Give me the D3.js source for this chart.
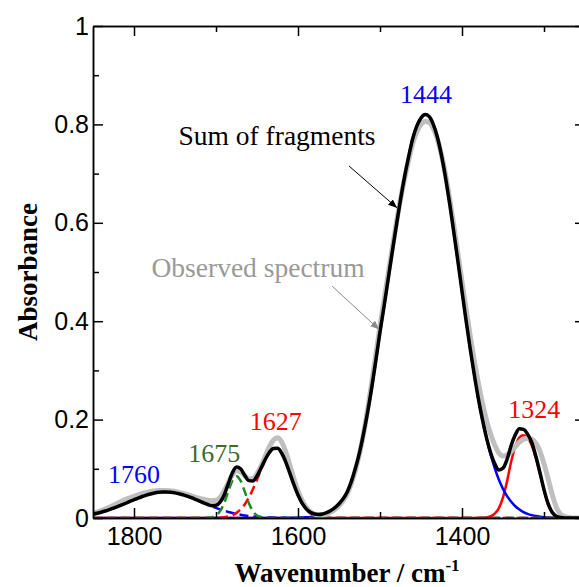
<!DOCTYPE html>
<html>
<head>
<meta charset="utf-8">
<script src="https://cdn.jsdelivr.net/npm/d3@7"></script>
<style>
  body { margin: 0; background: #fff; }
  svg { display: block; font-family: "Liberation Serif", "Times New Roman", serif; }
  .axis text { font-size: 25px; fill: #000; }
  .axis line, .axis path { stroke: #000; stroke-width: 1.5px; }
</style>
</head>
<body>
<div id="chart"></div>
<script>
// wavenumber grid (cm-1), read every 5 cm-1 off the figure
const wavenumber = [
  1850, 1845, 1840, 1835, 1830, 1825, 1820, 1815, 1810, 1805,
  1800, 1795, 1790, 1785, 1780, 1775, 1770, 1765, 1760, 1755,
  1750, 1745, 1740, 1735, 1730, 1725, 1720, 1715, 1710, 1705,
  1700, 1695, 1690, 1685, 1680, 1675, 1670, 1665, 1660, 1655,
  1650, 1645, 1640, 1635, 1630, 1625, 1620, 1615, 1610, 1605,
  1600, 1595, 1590, 1585, 1580, 1575, 1570, 1565, 1560, 1555,
  1550, 1545, 1540, 1535, 1530, 1525, 1520, 1515, 1510, 1505,
  1500, 1495, 1490, 1485, 1480, 1475, 1470, 1465, 1460, 1455,
  1450, 1445, 1440, 1435, 1430, 1425, 1420, 1415, 1410, 1405,
  1400, 1395, 1390, 1385, 1380, 1375, 1370, 1365, 1360, 1355,
  1350, 1345, 1340, 1335, 1330, 1325, 1320, 1315, 1310, 1305,
  1300, 1295, 1290, 1285, 1280, 1275, 1270, 1265, 1260, 1255,
  1250
]

// observed spectrum (grey)
const observed = [
  .010, .012, .015, .018, .022, .026, .030, .034, .038, .041,
  .044, .047, .050, .052, .054, .055, .056, .056, .056, .055,
  .054, .052, .050, .048, .045, .042, .040, .038, .036, .035,
  .036, .042, .055, .072, .088, .096, .094, .086, .079, .080,
  .090, .106, .125, .145, .158, .163, .155, .135, .108, .080,
  .055, .036, .022, .013, .008, .006, .006, .008, .012, .017,
  .025, .035, .049, .070, .097, .130, .172, .222, .276, .333,
  .390, .443, .496, .549, .600, .648, .690, .728, .762, .785,
  .800, .806, .804, .792, .770, .738, .697, .648, .594, .538,
  .480, .424, .370, .320, .274, .233, .198, .170, .148, .132,
  .126, .128, .135, .145, .154, .160, .162, .160, .152, .136,
  .110, .080, .048, .022, .008, .003, .001, 0, 0, 0,
  0
]

// fitted fragments
const band1760 = [
  .0078, .0097, .0118, .0142, .0169, .0199, .0231, .0265, .0300, .0336,
  .0371, .0405, .0437, .0465, .0489, .0508, .0522, .0529, .0529, .0524,
  .0511, .0494, .0470, .0443, .0412, .0378, .0343, .0307, .0272, .0238,
  .0205, .0175, .0147, .0123, .0101, .0082, .0066, .0052, .0041, .0031,
  .0024, .0018, .0013, .0010, .0007, .0005, .0004, .0003, .0002, .0001,
  .0001, 0, 0, 0, 0, 0, 0, 0, 0, 0,
  0, 0, 0, 0, 0, 0, 0, 0, 0, 0,
  0, 0, 0, 0, 0, 0, 0, 0, 0, 0,
  0, 0, 0, 0, 0, 0, 0, 0, 0, 0,
  0, 0, 0, 0, 0, 0, 0, 0, 0, 0,
  0, 0, 0, 0, 0, 0, 0, 0, 0, 0,
  0, 0, 0, 0, 0, 0, 0, 0, 0, 0,
  0
]
const band1675 = [
  0, 0, 0, 0, 0, 0, 0, 0, 0, 0,
  0, 0, 0, 0, 0, 0, 0, 0, 0, 0,
  0, 0, 0, 0, 0, 0, 0, 0, .0003, .0014,
  .0050, .0139, .0306, .0540, .0759, .0850, .0759, .0540, .0306, .0139,
  .0050, .0014, .0003, 0, 0, 0, 0, 0, 0, 0,
  0, 0, 0, 0, 0, 0, 0, 0, 0, 0,
  0, 0, 0, 0, 0, 0, 0, 0, 0, 0,
  0, 0, 0, 0, 0, 0, 0, 0, 0, 0,
  0, 0, 0, 0, 0, 0, 0, 0, 0, 0,
  0, 0, 0, 0, 0, 0, 0, 0, 0, 0,
  0, 0, 0, 0, 0, 0, 0, 0, 0, 0,
  0, 0, 0, 0, 0, 0, 0, 0, 0, 0,
  0
]
const band1627 = [
  0, 0, 0, 0, 0, 0, 0, 0, 0, 0,
  0, 0, 0, 0, 0, 0, 0, 0, 0, 0,
  0, 0, 0, 0, 0, 0, 0, 0, 0, .0001,
  .0003, .0008, .0016, .0031, .0059, .0104, .0175, .0276, .0413, .0584,
  .0779, .0984, .1172, .1321, .1406, .1411, .1317, .1137, .0909, .0673,
  .0461, .0292, .0172, .0093, .0047, .0022, .0009, .0004, .0001, 0,
  0, 0, 0, 0, 0, 0, 0, 0, 0, 0,
  0, 0, 0, 0, 0, 0, 0, 0, 0, 0,
  0, 0, 0, 0, 0, 0, 0, 0, 0, 0,
  0, 0, 0, 0, 0, 0, 0, 0, 0, 0,
  0, 0, 0, 0, 0, 0, 0, 0, 0, 0,
  0, 0, 0, 0, 0, 0, 0, 0, 0, 0,
  0
]
const band1444 = [
  0, 0, 0, 0, 0, 0, 0, 0, 0, 0,
  0, 0, 0, 0, 0, 0, 0, 0, 0, 0,
  0, 0, 0, 0, 0, 0, 0, 0, 0, 0,
  0, 0, 0, 0, 0, 0, 0, 0, 0, 0,
  0, 0, 0, 0, 0, 0, 0, .0001, .0002, .0004,
  .0006, .0010, .0015, .0022, .0034, .0050, .0073, .0105, .0150, .0210,
  .0290, .0390, .0530, .0740, .1010, .1330, .1720, .2160, .2660, .3210,
  .3780, .4310, .4860, .5410, .5950, .6470, .6940, .7350, .7720, .7970,
  .8130, .8200, .8160, .8000, .7740, .7370, .6910, .6390, .5810, .5220,
  .4610, .4010, .3440, .2910, .2420, .1990, .1610, .1280, .1010, .0777,
  .0592, .0444, .0329, .0239, .0172, .0121, .0085, .0058, .0039, .0026,
  .0017, .0011, .0007, .0005, .0003, .0002, .0001, 0, 0, 0,
  0
]
const band1324 = [
  0, 0, 0, 0, 0, 0, 0, 0, 0, 0,
  0, 0, 0, 0, 0, 0, 0, 0, 0, 0,
  0, 0, 0, 0, 0, 0, 0, 0, 0, 0,
  0, 0, 0, 0, 0, 0, 0, 0, 0, 0,
  0, 0, 0, 0, 0, 0, 0, 0, 0, 0,
  0, 0, 0, 0, 0, 0, 0, 0, 0, 0,
  0, 0, 0, 0, 0, 0, 0, 0, 0, 0,
  0, 0, 0, 0, 0, 0, 0, 0, 0, 0,
  0, 0, 0, 0, 0, 0, 0, 0, 0, 0,
  0, 0, 0, 0, 0, .0003, .0012, .0040, .0090, .0200,
  .0420, .0750, .1150, .1450, .1640, .1680, .1620, .1480, .1220, .0900,
  .0560, .0280, .0110, .0030, .0010, 0, 0, 0, 0, 0,
  0
]

const xTicks = [ 1800, 1600, 1400 ]
const xMinorTicks = [ 1700, 1500, 1300 ]
const yTicks = [ 0, 0.2, 0.4, 0.6, 0.8, 1 ]
const yMinorTicks = [ 0.1, 0.3, 0.5, 0.7, 0.9 ]

// fragments drawn under the spectra, in this order
const fragments = [
  { name: '1324', values: band1324, color: '#ff0000', dash: null },
  { name: '1444', values: band1444, color: '#0000ff', dash: null },
  { name: '1760', values: band1760, color: '#0000ff', dash: '9,5' },
  { name: '1627', values: band1627, color: '#ff0000', dash: '9,5' },
  { name: '1675', values: band1675, color: '#1a8c1a', dash: '9,5' }
]

const peakLabels = [
  { text: '1444', wn: 1444, abs: 0.843, color: '#0000ff' },
  { text: '1627', wn: 1627, abs: 0.179, color: '#ff0000' },
  { text: '1675', wn: 1702, abs: 0.114, color: '#3e6a2c' },
  { text: '1760', wn: 1800, abs: 0.071, color: '#0000ff' },
  { text: '1324', wn: 1312, abs: 0.204, color: '#ff0000' }
]

const width = 579
const height = 587
const x = d3.scaleLinear().domain([ 1850, 1250 ]).range([ 93, 585 ])
const y = d3.scaleLinear().domain([ 0, 1 ]).range([ 518, 26 ])

const svg = d3.select('#chart').append('svg')
  .attr('width', width)
  .attr('height', height)

const defs = svg.append('defs')
defs.append('clipPath').attr('id', 'plot')
  .append('rect')
  .attr('x', x.range()[0]).attr('y', y.range()[1])
  .attr('width', x.range()[1] - x.range()[0])
  .attr('height', y.range()[0] - y.range()[1])

function arrowMarker (id, color) {
  defs.append('marker')
    .attr('id', id)
    .attr('viewBox', '0 0 10 10')
    .attr('refX', 10).attr('refY', 5)
    .attr('markerWidth', 9).attr('markerHeight', 9)
    .attr('markerUnits', 'userSpaceOnUse')
    .attr('orient', 'auto')
    .append('path')
    .attr('d', 'M0,1 L10,5 L0,9 z')
    .attr('fill', color)
}
arrowMarker('arrowBlack', '#000')
arrowMarker('arrowGrey', '#8a8a8a')

// curves
const line = values => d3.line()
  .x((d, i) => x(wavenumber[ i ]))
  .y(d => y(d))
  .curve(d3.curveMonotoneX)(values)

const sum = wavenumber.map((w, i) => d3.sum(fragments, f => f.values[ i ]))

const plot = svg.append('g').attr('clip-path', 'url(#plot)')

plot.selectAll('.fragment')
  .data(fragments)
  .enter()
  .append('path')
  .attr('class', 'fragment')
  .attr('d', d => line(d.values))
  .attr('fill', 'none')
  .attr('stroke', d => d.color)
  .attr('stroke-width', 2.5)
  .attr('stroke-dasharray', d => d.dash)

plot.append('path')
  .attr('d', line(observed))
  .attr('fill', 'none')
  .attr('stroke', '#bfbfbf')
  .attr('stroke-width', 5)
  .attr('stroke-linejoin', 'round')

plot.append('path')
  .attr('d', line(sum))
  .attr('fill', 'none')
  .attr('stroke', '#000')
  .attr('stroke-width', 3.5)
  .attr('stroke-linejoin', 'round')

// axes, ticks pointing inward on all four sides
const fmt = d => String(d)
svg.append('g').attr('class', 'axis')
  .attr('transform', 'translate(0,' + y(0) + ')')
  .call(d3.axisBottom(x).tickValues(xTicks).tickSize(-10).tickSizeOuter(0).tickPadding(9).tickFormat(fmt))
svg.append('g').attr('class', 'axis')
  .attr('transform', 'translate(0,' + y(0) + ')')
  .call(d3.axisBottom(x).tickValues(xMinorTicks).tickSize(-6).tickSizeOuter(0).tickFormat(''))
svg.append('g').attr('class', 'axis')
  .attr('transform', 'translate(0,' + y(1) + ')')
  .call(d3.axisTop(x).tickValues(xTicks).tickSize(-10).tickSizeOuter(0).tickFormat(''))
svg.append('g').attr('class', 'axis')
  .attr('transform', 'translate(0,' + y(1) + ')')
  .call(d3.axisTop(x).tickValues(xMinorTicks).tickSize(-6).tickSizeOuter(0).tickFormat(''))
svg.append('g').attr('class', 'axis')
  .attr('transform', 'translate(' + x(1850) + ',0)')
  .call(d3.axisLeft(y).tickValues(yTicks).tickSize(-10).tickSizeOuter(0).tickPadding(4).tickFormat(fmt))
svg.append('g').attr('class', 'axis')
  .attr('transform', 'translate(' + x(1850) + ',0)')
  .call(d3.axisLeft(y).tickValues(yMinorTicks).tickSize(-6).tickSizeOuter(0).tickFormat(''))
svg.append('g').attr('class', 'axis')
  .attr('transform', 'translate(' + x(1250) + ',0)')
  .call(d3.axisRight(y).tickValues(yTicks).tickSize(-10).tickSizeOuter(0).tickFormat(''))
svg.append('g').attr('class', 'axis')
  .attr('transform', 'translate(' + x(1250) + ',0)')
  .call(d3.axisRight(y).tickValues(yMinorTicks).tickSize(-6).tickSizeOuter(0).tickFormat(''))

// axis titles
svg.append('text')
  .attr('transform', 'translate(37,' + y(0.5) + ') rotate(-90)')
  .attr('text-anchor', 'middle')
  .attr('font-weight', 'bold')
  .attr('font-size', 27)
  .text('Absorbance')

const xTitle = svg.append('text')
  .attr('x', 347)
  .attr('y', 582)
  .attr('text-anchor', 'middle')
  .attr('font-weight', 'bold')
  .attr('font-size', 27)
xTitle.append('tspan').text('Wavenumber / cm')
xTitle.append('tspan').attr('dy', -11).attr('font-size', 17).text('-1')

// peak labels
svg.selectAll('.peak')
  .data(peakLabels)
  .enter()
  .append('text')
  .attr('class', 'peak')
  .attr('x', d => x(d.wn))
  .attr('y', d => y(d.abs))
  .attr('text-anchor', 'middle')
  .attr('font-size', 26)
  .attr('fill', d => d.color)
  .text(d => d.text)

// annotations with arrows
svg.append('text')
  .attr('x', 277).attr('y', 145)
  .attr('text-anchor', 'middle')
  .attr('font-size', 27.5)
  .text('Sum of fragments')
svg.append('line')
  .attr('x1', 349).attr('y1', 166)
  .attr('x2', x(1479)).attr('y2', y(0.63))
  .attr('stroke', '#000').attr('stroke-width', 1)
  .attr('marker-end', 'url(#arrowBlack)')

svg.append('text')
  .attr('x', 258).attr('y', 277)
  .attr('text-anchor', 'middle')
  .attr('font-size', 27.5)
  .attr('fill', '#999')
  .text('Observed spectrum')
svg.append('line')
  .attr('x1', 332).attr('y1', 286)
  .attr('x2', x(1501)).attr('y2', y(0.383))
  .attr('stroke', '#8a8a8a').attr('stroke-width', 1)
  .attr('marker-end', 'url(#arrowGrey)')
</script>
</body>
</html>
